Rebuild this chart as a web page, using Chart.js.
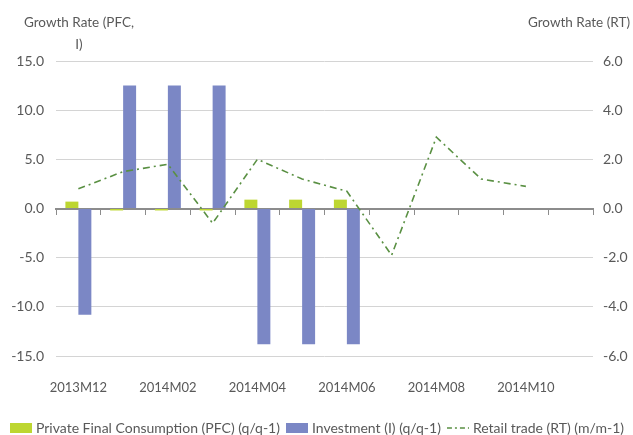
<!DOCTYPE html>
<html>
<head>
<meta charset="utf-8">
<script src="https://cdn.jsdelivr.net/npm/chart.js@4.4.1/dist/chart.umd.min.js"></script>
<style>
  html, body { margin: 0; padding: 0; background: #fff; }
  #wrap { width: 633px; height: 435px; }
</style>
</head>
<body>
<div id="wrap"><canvas id="c"></canvas></div>
<script>
const months = ["2013M12", "2014M01", "2014M02", "2014M03", "2014M04", "2014M05",
  "2014M06", "2014M07", "2014M08", "2014M09", "2014M10", "2014M11"];
const pfc = [0.7, -0.2, -0.2, -0.2, 0.9, 0.9, 0.9, null, null, null, null, null];
const investment = [-10.8, 12.5, 12.5, 12.5, -13.8, -13.8, -13.8, null, null, null, null, null];
const retail = [0.8, 1.5, 1.8, -0.6, 2.0, 1.2, 0.7, -1.9, 2.9, 1.2, 0.9, null];

const FONT = "Lato, 'Open Sans', sans-serif";
const GREEN = "#bdd631";
const BLUE = "#7b87c5";
const LINE = "#5a9043";

// small canvases used as legend markers
function marker(kind) {
  const cv = document.createElement("canvas");
  cv.width = 22; cv.height = 10;
  const g = cv.getContext("2d");
  if (kind === "line") {
    g.strokeStyle = LINE;
    g.lineWidth = 1.5;
    g.setLineDash([5, 3, 2, 3]);
    g.beginPath(); g.moveTo(0, 5); g.lineTo(22, 5); g.stroke();
  } else {
    g.fillStyle = kind;
    g.fillRect(0, 0, 22, 10);
  }
  return cv;
}
const markers = [marker(GREEN), marker(BLUE), marker("line")];

const titles = {
  id: "titles",
  afterDraw(chart) {
    const ctx = chart.ctx;
    ctx.save();
    ctx.fillStyle = "#595959";
    ctx.font = "13.5px " + FONT;
    ctx.textBaseline = "middle";
    ctx.textAlign = "center";
    ctx.fillText("Growth Rate (PFC,", 79, 23);
    ctx.fillText("I)", 79, 45);
    ctx.textAlign = "right";
    ctx.fillText("Growth Rate (RT)", 630, 23);
    ctx.restore();
  }
};

new Chart(document.getElementById("c"), {
  type: "bar",
  data: {
    labels: months,
    datasets: [
      {
        label: "Private Final Consumption (PFC) (q/q-1)",
        data: pfc,
        backgroundColor: GREEN,
        categoryPercentage: 0.58,
        barPercentage: 1.0,
        order: 1,
      },
      {
        label: "Investment (I) (q/q-1)",
        data: investment,
        backgroundColor: BLUE,
        categoryPercentage: 0.58,
        barPercentage: 1.0,
        order: 1,
      },
      {
        type: "line",
        label: "Retail trade (RT) (m/m-1)",
        data: retail,
        yAxisID: "y1",
        borderColor: LINE,
        borderWidth: 1.6,
        borderDash: [7, 4, 2, 4],
        pointRadius: 0,
        tension: 0,
        fill: false,
        order: 0,
      },
    ],
  },
  options: {
    responsive: true,
    maintainAspectRatio: false,
    animation: false,
    layout: { padding: { top: 61, left: 0, right: 0, bottom: -10 } },
    plugins: {
      tooltip: { enabled: false },
      legend: {
        position: "bottom",
        align: "end",
        labels: {
          usePointStyle: true,
          pointStyleWidth: 16,
          padding: 9,
          color: "#595959",
          font: { family: FONT, size: 14 },
          sort: (a, b) => a.datasetIndex - b.datasetIndex,
          generateLabels(chart) {
            const items = Chart.defaults.plugins.legend.labels.generateLabels(chart);
            return items.map((it) => ({ ...it, pointStyle: markers[it.datasetIndex] }));
          },
        },
      },
    },
    scales: {
      x: {
        grid: { display: false },
        border: { display: false },
        ticks: {
          autoSkip: false,
          maxRotation: 0,
          padding: 16,
          color: "#595959",
          font: { family: FONT, size: 13 },
          callback: (v, i) => (i % 2 === 0 ? months[i] : ""),
        },
        afterFit: (s) => { s.height = 56; },
      },
      x2: {
        type: "category",
        labels: months,
        offset: true,
        position: { y: 0 },
        grid: { drawOnChartArea: false, drawTicks: true, tickLength: 5, color: "#8c8c8c", offset: true },
        border: { color: "#8c8c8c", width: 2 },
        ticks: { display: false },
      },
      y: {
        min: -15,
        max: 15,
        ticks: {
          stepSize: 5,
          padding: 12,
          color: "#595959",
          font: { family: FONT, size: 14 },
          callback: (v) => v.toFixed(1),
        },
        grid: { color: "#d4d4d4", drawTicks: false },
        border: { display: false },
        afterFit: (s) => { s.width = 56; },
      },
      y1: {
        position: "right",
        min: -6,
        max: 6,
        ticks: {
          stepSize: 2,
          padding: 10,
          color: "#595959",
          font: { family: FONT, size: 14 },
          callback: (v) => v.toFixed(1),
        },
        grid: { drawOnChartArea: false, drawTicks: false },
        border: { display: false },
        afterFit: (s) => { s.width = 40; },
      },
    },
  },
  plugins: [titles],
});
</script>
</body>
</html>
